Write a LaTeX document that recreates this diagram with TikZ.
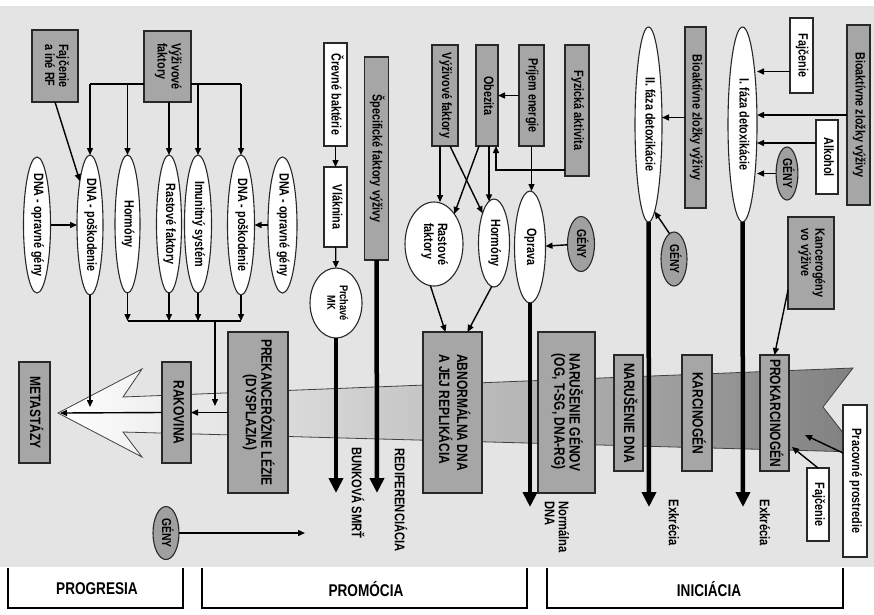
\documentclass[tikz,border=0pt]{standalone}
\usepackage{fontspec}
\setmainfont{Liberation Sans}[FakeStretch=0.8]
\usepackage{graphicx}
\usetikzlibrary{shapes.geometric,arrows.meta,calc}
\definecolor{bgc}{RGB}{228,228,228}
\definecolor{boxg}{RGB}{166,166,166}
\definecolor{genyg}{RGB}{160,160,160}
\definecolor{bandr}{RGB}{128,128,128}
\definecolor{edgec}{RGB}{40,40,40}
\newcommand{\vt}[2][c]{\rotatebox{-90}{\makebox[0pt]{\begin{tabular}{@{}#1@{}}#2\end{tabular}}}}
\begin{document}
\begin{tikzpicture}[x=1pt,y=-1pt,
 base/.style={inner sep=0pt, outer sep=0pt, draw=edgec, line width=1.1pt, font=\fontsize{13.5}{14}\selectfont\bfseries},
 gbox/.style={base, rectangle, fill=boxg},
 wbox/.style={base, rectangle, fill=white},
 wel/.style={base, ellipse, fill=white},
 gel/.style={base, ellipse, fill=genyg, font=\fontsize{13}{13}\selectfont\bfseries},
 caps/.style={font=\fontsize{15}{15}\selectfont\bfseries},
 lbl/.style={inner sep=0pt, font=\fontsize{14}{14}\selectfont\bfseries},
 arr/.style={line width=1.4pt, draw=black, -{Triangle[length=7pt,width=6pt]}},
 ln/.style={line width=1.4pt, draw=black},
 thk/.style={line width=4.5pt, draw=black, -{Triangle[length=15pt,width=14pt]}},
 bottom/.style={font=\fontsize{17}{17}\selectfont\bfseries, inner sep=0pt}
]
\useasboundingbox (0,0) rectangle (874,614);
\fill[white] (0,0) rectangle (874,614);
\fill[bgc] (0,6) rectangle (874,567);

% big arrow band
\shadedraw[left color=white, right color=bandr, draw=black!75, line width=0.8pt]
 (58,413) -- (142,369) -- (123,397) -- (853,368) -- (823,407) -- (858,452) -- (123,432) -- (142,457) -- cycle;

% ---------- left ----------
\node[gbox, minimum width=46pt, minimum height=72pt] (fajc1) at (55,66) {\vt[l]{Fajčenie\\a iné RF}};
\node[gbox, minimum width=47pt, minimum height=71pt] (vyz1) at (167.5,66.5) {\vt[l]{Výživové\\faktory}};
\node[wel, minimum width=27pt, minimum height=136pt] (opr1) at (37,225) {\vt{DNA - opravné gény}};
\node[wel, minimum width=26pt, minimum height=140pt] (dnap1) at (90,225) {\vt{DNA - poškodenie}};
\node[wel, minimum width=25pt, minimum height=138pt] (horm1) at (127.5,224) {\vt{Hormóny}};
\node[wel, minimum width=25pt, minimum height=138pt] (rast1) at (169,224) {\vt{Rastové faktory}};
\node[wel, minimum width=27pt, minimum height=138pt] (imun) at (198,224) {\vt{Imunitný systém}};
\node[wel, minimum width=27pt, minimum height=140pt] (dnap2) at (241,225) {\vt{DNA - poškodenie}};
\node[wel, minimum width=29pt, minimum height=136pt] (opr2) at (282.5,225) {\vt{DNA - opravné gény}};

\node[gbox, caps, minimum width=31pt, minimum height=101pt] (meta) at (34.5,412.5) {\vt{METASTÁZY}};
\node[gbox, caps, minimum width=29pt, minimum height=101pt] (rak) at (176.5,412.5) {\vt{RAKOVINA}};
\node[gbox, caps, minimum width=60pt, minimum height=161pt] (prek) at (258,412.5) {\vt{PREKANCERÓZNE LÉZIE\\(DYSPLAZIA)}};
\node[gel, minimum width=26pt, minimum height=53pt] (geny1) at (166,533) {\vt{GÉNY}};
\coordinate (genyEnd) at (305,533);

% ---------- middle ----------
\node[wbox, minimum width=23pt, minimum height=103pt] (crev) at (335.5,94.5) {\vt{Črevné baktérie}};
\node[wbox, minimum width=23pt, minimum height=80pt] (vlak) at (335.5,207) {\vt{Vláknina}};
\node[wel, minimum width=52pt, minimum height=70pt, font=\fontsize{11.5}{12.5}\selectfont\bfseries] (prch) at (336,303) {\vt{Prchavé\\MK}};
\node[gbox, minimum width=24pt, minimum height=203pt] (spec) at (376.5,158.5) {\vt{Špecifické faktory výživy}};
\coordinate (bsEnd) at (336,493);
\coordinate (redEnd) at (377,493);
\node[lbl] (bslab) at (356,493) {\vt{BUNKOVÁ SMRŤ}};
\node[lbl] (redlab) at (399,500) {\vt{REDIFERENCIÁCIA}};

\node[gbox, minimum width=26pt, minimum height=101pt] (vyz2) at (445,95.5) {\vt{Výživové faktory}};
\node[gbox, minimum width=22pt, minimum height=101pt] (obez) at (487,95.5) {\vt{Obezita}};
\node[gbox, minimum width=25pt, minimum height=101pt] (prij) at (531.5,95.5) {\vt{Príjem energie}};
\node[gbox, minimum width=24pt, minimum height=131pt] (fyz) at (577,110.5) {\vt{Fyzická aktivita}};
\node[wel, minimum width=58pt, minimum height=84pt] (rast2) at (434,244) {\vt[l]{Rastové\\faktory}};
\node[wel, minimum width=31pt, minimum height=88pt] (horm2) at (494,243) {\vt{Hormóny}};
\node[wel, minimum width=31pt, minimum height=112pt] (oprava) at (530,247) {\vt{Oprava}};
\node[gel, minimum width=27pt, minimum height=55pt] (geny2) at (581,244) {\vt{GÉNY}};
\node[gbox, caps, minimum width=59pt, minimum height=161pt] (abn) at (452.5,412.5) {\vt[l]{ABNORMÁLNA DNA\\A JEJ REPLIKÁCIA}};
\node[gbox, caps, minimum width=57pt, minimum height=161pt] (nar) at (566.5,412.5) {\vt[l]{NARUŠENIE GÉNOV\\(OG, T-SG, DNA-RG)}};
\coordinate (oprEnd) at (530,507);
\node[lbl] (normlab) at (555,527) {\vt[l]{Normálna\\DNA}};

% ---------- right ----------
\node[wel, minimum width=27pt, minimum height=195pt] (det2) at (648.5,124.5) {\vt{II. fáza detoxikácie}};
\node[gbox, minimum width=21pt, minimum height=181pt] (bio1) at (695.5,117.5) {\vt{Bioaktívne zložky výživy}};
\node[wel, minimum width=29pt, minimum height=195pt] (det1) at (742.5,124.5) {\vt{I. fáza detoxikácie}};
\node[wbox, minimum width=23pt, minimum height=75pt] (fajc2) at (801.5,55.5) {\vt{Fajčenie}};
\node[gbox, minimum width=23pt, minimum height=180pt] (bio2) at (858.5,115) {\vt{Bioaktívne zložky výživy}};
\node[wbox, minimum width=22pt, minimum height=74pt] (alk) at (827,157) {\vt{Alkohol}};
\node[gel, minimum width=21pt, minimum height=53pt] (geny3) at (787,173.5) {\vt{GÉNY}};
\node[gel, minimum width=26pt, minimum height=54pt] (geny4) at (674,259) {\vt{GÉNY}};
\node[gbox, minimum width=46pt, minimum height=92pt] (kanc) at (811,263) {\vt[l]{Kancerogény\\vo výžive}};
\node[gbox, caps, minimum width=29pt, minimum height=116pt] (nardna) at (628.5,413) {\vt{NARUŠENIE DNA}};
\node[gbox, caps, minimum width=30pt, minimum height=116pt] (karc) at (697,413) {\vt{KARCINOGÉN}};
\node[gbox, caps, minimum width=29pt, minimum height=116pt] (prok) at (774.5,413) {\vt{PROKARCINOGÉN}};
\node[wbox, minimum width=24pt, minimum height=152pt] (prac) at (855,481) {\vt{Pracovné prostredie}};
\node[wbox, minimum width=22pt, minimum height=73pt] (fajc3) at (818,504.5) {\vt{Fajčenie}};
\coordinate (det2End) at (649,507);
\coordinate (det1End) at (743,507);
\node[lbl] (ex1) at (672,523) {\vt{Exkrécia}};
\node[lbl] (ex2) at (763,523) {\vt{Exkrécia}};
\coordinate (bandA) at (805,435);
\coordinate (bandB) at (792,447);

% ---------- connectors left ----------
\coordinate (busL) at (90,84);
\coordinate (busR) at (241,84);
\draw[ln] (vyz1.west |- busL) -- (busL);
\draw[ln] (vyz1.east |- busR) -- (busR);
\draw[arr] (busL) -- (dnap1.north);
\draw[arr] (horm1.north |- busL) -- (horm1.north);
\draw[arr] (rast1.north |- vyz1.south) -- (rast1.north);
\draw[arr] (imun.north |- busR) -- (imun.north);
\draw[arr] (busR) -- (dnap2.north);
\draw[arr] (fajc1.south) -- (dnap1.103);
\draw[arr] (opr1) -- (dnap1);
\draw[arr] (opr2) -- (dnap2);
\coordinate (bus2L) at (127.5,321);
\coordinate (bus2R) at (241,321);
\coordinate (bus2M) at (215,321);
\draw[arr] (horm1.south) -- (horm1.south |- bus2L);
\draw[arr] (rast1.south) -- (rast1.south |- bus2L);
\draw[arr] (imun.south) -- (imun.south |- bus2L);
\draw[arr] (dnap2.south) -- (dnap2.south |- bus2L);
\draw[ln] (bus2L) -- (bus2R);
\coordinate (cancIn) at (215,406);
\draw[arr] (bus2M) -- (cancIn);
\coordinate (metaIn) at (90,407);
\draw[arr] (dnap1.south) -- (metaIn);
\coordinate (tip) at (60,413);
\draw[arr] (prek.west) -- (rak.east);
\draw[arr] (rak.west) -- (tip);
\draw[arr] (geny1.east) -- (genyEnd);

% ---------- connectors middle ----------
\draw[arr] (crev) -- (vlak);
\draw[arr] (vlak) -- (prch);
\draw[thk] (prch.south) -- (bsEnd);
\draw[thk] (spec.south) -- (redEnd);
\draw[arr] (prij.west) -- (obez.east);
\draw[arr] ([yshift=6pt]fyz.south west) -| ([xshift=-2pt]obez.south east);
\draw[arr] ([xshift=-5pt]vyz2.south) -- ([xshift=-5pt]vyz2.south |- rast2.north);
\draw[arr] ([xshift=5pt]vyz2.south) -- (horm2.111);
\draw[arr] ([xshift=2pt]obez.south) -- ([xshift=2pt]obez.south |- horm2.97);
\draw[arr] ([xshift=-8pt]obez.south) -- (rast2.56);
\draw[arr] (prij.south) -- (prij.south |- oprava.north);
\draw[arr] (geny2) -- (oprava);
\draw[arr] (rast2.265) -- ([xshift=-7pt]abn.north);
\draw[arr] (horm2.267) -- ([xshift=15pt]abn.north);
\draw[thk] (oprava.south) -- (oprEnd);

% ---------- connectors right ----------
\draw[arr] (bio1.west) -- (bio1.west -| det2.east);
\draw[arr] ([yshift=-16pt]fajc2.west) -- ([yshift=-16pt]fajc2.west -| det1.east);
\draw[arr] (bio2.west) -- (bio2.west -| det1.east);
\draw[arr] ([yshift=14pt]alk.west) -- ([yshift=14pt]alk.west -| det1.east);
\draw[arr] (geny3.west) -- (geny3.west -| det1.east);
\draw[arr] (geny4.100) -- (det2.274);
\draw[thk] (det2.south) -- (det2End);
\draw[thk] (det1.south) -- (det1End);
\draw[arr] ([yshift=-27pt]kanc.west) -- (prok.north);
\draw[arr] ([yshift=28pt]prac.west) -- (bandA);
\draw[arr] (fajc3.north) -- (bandB);

% ---------- bottom phase boxes ----------
\draw[line width=1.2pt] (8,568) |- (183,608) -- (183,568);
\draw[line width=1.2pt] (202,568) |- (527,608) -- (527,568);
\draw[line width=1.2pt] (547,568) |- (843,608) -- (843,568);
\node[bottom] (prog) at (97,589) {PROGRESIA};
\node[bottom] (prom) at (366,589) {PROMÓCIA};
\node[bottom] (inic) at (709,589) {INICIÁCIA};
\end{tikzpicture}
\end{document}
